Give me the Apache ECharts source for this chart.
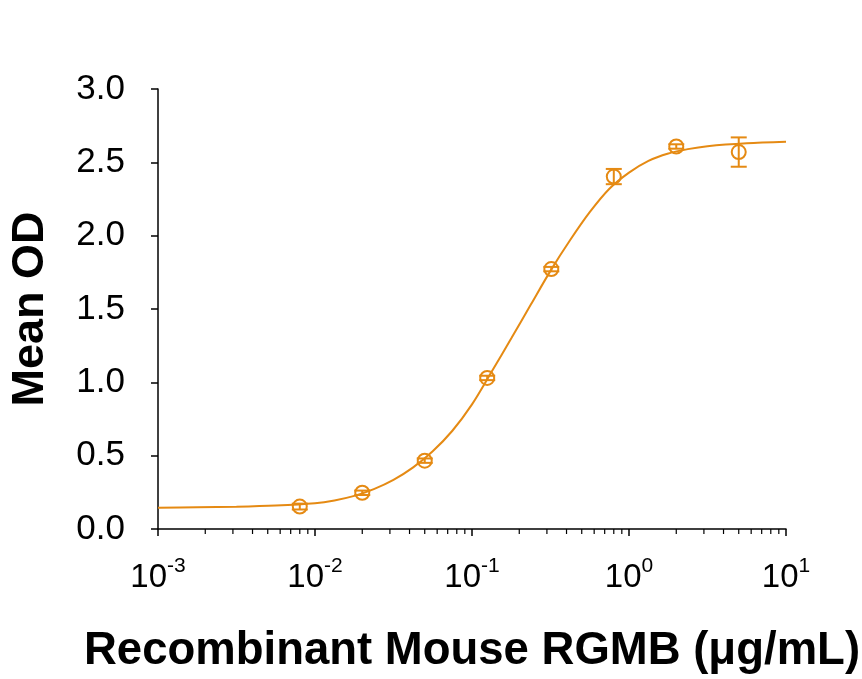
<!DOCTYPE html>
<html>
<head>
<meta charset="utf-8">
<script src="https://cdn.jsdelivr.net/npm/echarts@6/dist/echarts.min.js"></script>
<style>
html,body{margin:0;padding:0;background:#fff;}
#chart{width:862px;height:679px;}
</style>
</head>
<body>
<div id="chart"></div>
<script>
// Measured points (concentration µg/mL, mean OD, error)
var pointX = [0.008, 0.02, 0.05, 0.125, 0.32, 0.8, 2, 5];
var pointY = [0.153, 0.247, 0.466, 1.03, 1.772, 2.403, 2.608, 2.570];
var pointErr = [0.02, 0.015, 0.015, 0.015, 0.015, 0.052, 0.015, 0.10];

// Fitted curve
var curveX = [0.001, 0.00178, 0.00316, 0.00562, 0.01, 0.0133, 0.0178, 0.0237, 0.0316, 0.0422, 0.0562, 0.075, 0.1, 0.133, 0.178, 0.237, 0.316, 0.422, 0.562, 0.75, 1, 1.33, 1.78, 2.37, 3.16, 5.62, 10];
var curveY = [0.145, 0.148, 0.152, 0.160, 0.176, 0.195, 0.226, 0.272, 0.335, 0.42, 0.53, 0.67, 0.85, 1.07, 1.30, 1.53, 1.76, 1.97, 2.16, 2.32, 2.43, 2.51, 2.56, 2.59, 2.61, 2.63, 2.64];

// Axis ticks
var yTicks = [0.0, 0.5, 1.0, 1.5, 2.0, 2.5, 3.0];
var xDecades = [0.001, 0.01, 0.1, 1];
var minorMult = [2, 3, 4, 5, 6, 7, 8, 9];

var COLOR = '#E58A13';
var FONT = '"Liberation Sans", Arial, sans-serif';

var curveData = curveX.map(function (x, i) { return [x, curveY[i]]; });
var pointData = pointX.map(function (x, i) { return [x, pointY[i], pointErr[i]]; });
var minorData = [];
xDecades.forEach(function (d) { minorMult.forEach(function (m) { minorData.push([d * m, 0]); }); });

var chart = echarts.init(document.getElementById('chart'), null, {renderer: 'canvas'});
chart.setOption({
  animation: false,
  backgroundColor: '#fff',
  grid: {left: 150, right: 76, top: 89, bottom: 146, containLabel: false},
  xAxis: {
    type: 'log', logBase: 10, min: 0.001, max: 10,
    name: 'Recombinant Mouse RGMB (\u03bcg/mL)',
    nameLocation: 'middle', nameGap: 99,
    nameTextStyle: {fontFamily: FONT, fontWeight: 'bold', fontSize: 45.5, color: '#000'},
    axisLine: {show: true, onZero: false, lineStyle: {color: '#000', width: 1.5}},
    axisTick: {show: true, inside: false, length: 7, lineStyle: {color: '#000', width: 1.5}},
    splitLine: {show: false},
    axisLabel: {
      margin: 27,
      formatter: function (v) {
        var e = Math.round(Math.log10(v));
        return '{b|10}{s|' + e + '}';
      },
      rich: {
        b: {fontFamily: FONT, fontSize: 33, color: '#000', lineHeight: 38, verticalAlign: 'bottom'},
        s: {fontFamily: FONT, fontSize: 21, color: '#000', lineHeight: 38, verticalAlign: 'top'}
      }
    }
  },
  yAxis: {
    type: 'value', min: 0, max: 3, interval: 0.5,
    name: 'Mean OD', nameLocation: 'middle', nameGap: 105, nameRotate: 90,
    nameTextStyle: {fontFamily: FONT, fontWeight: 'bold', fontSize: 45, color: '#000'},
    axisLine: {show: true, lineStyle: {color: '#000', width: 1.5}},
    axisTick: {show: true, inside: false, length: 7, lineStyle: {color: '#000', width: 1.5}},
    splitLine: {show: false},
    axisLabel: {
      margin: 33, fontFamily: FONT, fontSize: 35, color: '#000',
      formatter: function (v) { return v.toFixed(1); }
    }
  },
  series: [
    {
      type: 'custom',
      silent: true,
      data: minorData,
      clip: false,
      renderItem: function (params, api) {
        var p = api.coord([api.value(0), api.value(1)]);
        return {type: 'line', shape: {x1: p[0], y1: p[1], x2: p[0], y2: p[1] + 5},
          style: {stroke: '#000', lineWidth: 1.2}};
      }
    },
    {
      type: 'line',
      data: curveData,
      smooth: 0.3,
      showSymbol: false,
      symbol: 'none',
      lineStyle: {color: COLOR, width: 2},
      z: 3
    },
    {
      type: 'custom',
      data: pointData,
      z: 4,
      renderItem: function (params, api) {
        var x = api.value(0), y = api.value(1), e = api.value(2);
        var c = api.coord([x, y]);
        var top = api.coord([x, y + e]);
        var bot = api.coord([x, y - e]);
        var hw = 8;
        var st = {stroke: COLOR, lineWidth: 2, fill: null};
        return {
          type: 'group',
          children: [
            {type: 'line', shape: {x1: c[0], y1: top[1], x2: c[0], y2: bot[1]}, style: st},
            {type: 'line', shape: {x1: c[0] - hw, y1: top[1], x2: c[0] + hw, y2: top[1]}, style: st},
            {type: 'line', shape: {x1: c[0] - hw, y1: bot[1], x2: c[0] + hw, y2: bot[1]}, style: st},
            {type: 'circle', shape: {cx: c[0], cy: c[1], r: 7}, style: {stroke: COLOR, lineWidth: 2, fill: 'rgba(0,0,0,0)'}}
          ]
        };
      }
    }
  ]
});
</script>
</body>
</html>
